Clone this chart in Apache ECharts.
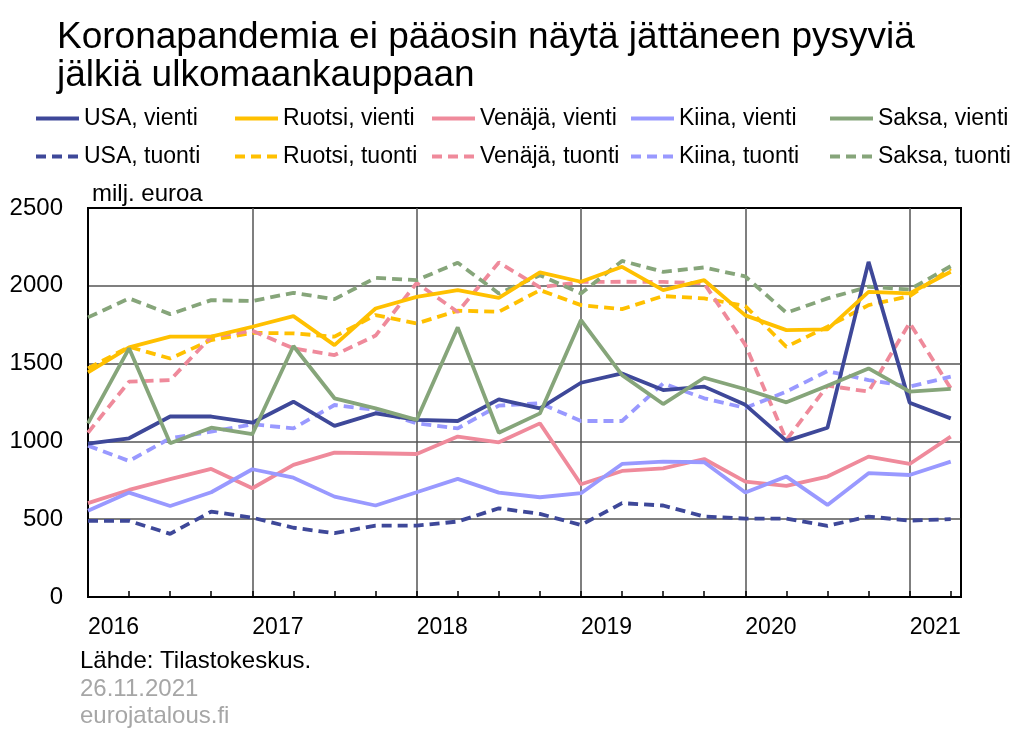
<!DOCTYPE html>
<html>
<head>
<meta charset="utf-8">
<script src="https://cdn.jsdelivr.net/npm/echarts@6/dist/echarts.min.js"></script>
<style>
  html, body { margin: 0; padding: 0; background: #fff; }
  #chart { width: 1014px; height: 729px; }
</style>
</head>
<body>
<div id="chart"></div>
<script>
// vuosineljännekset 2016Q1 - 2021Q2, milj. euroa
const years = ["2016", "2017", "2018", "2019", "2020", "2021"];

const usaVienti = [985, 1020, 1160, 1160, 1120, 1255, 1100, 1180, 1138, 1131, 1270, 1212, 1377, 1437, 1330, 1352, 1235, 1003, 1088, 2154, 1249, 1148];
const usaTuonti = [489, 489, 406, 549, 510, 445, 410, 459, 459, 485, 570, 534, 463, 603, 588, 517, 504, 504, 457, 517, 491, 500];
const ruotsiVienti = [1444, 1604, 1673, 1673, 1737, 1805, 1619, 1854, 1929, 1972, 1923, 2086, 2026, 2122, 1972, 2036, 1810, 1715, 1720, 1961, 1951, 2090];
const ruotsiTuonti = [1469, 1608, 1533, 1651, 1698, 1694, 1673, 1812, 1758, 1840, 1833, 1972, 1876, 1850, 1934, 1919, 1870, 1608, 1737, 1876, 1934, 2111];
const venajaVienti = [603, 688, 757, 823, 699, 849, 928, 924, 919, 1031, 994, 1116, 725, 810, 827, 887, 742, 714, 774, 902, 855, 1031];
const venajaTuonti = [1056, 1384, 1394, 1673, 1711, 1598, 1555, 1680, 2018, 1832, 2150, 1990, 2025, 2026, 2025, 2015, 1620, 1009, 1358, 1320, 1762, 1341];
const kiinaVienti = [555, 671, 585, 673, 821, 767, 645, 588, 673, 759, 671, 641, 667, 855, 870, 866, 671, 774, 592, 796, 784, 870];
const kiinaTuonti = [973, 874, 1020, 1063, 1110, 1084, 1234, 1202, 1116, 1084, 1230, 1245, 1131, 1131, 1373, 1277, 1215, 1320, 1452, 1394, 1352, 1416];
const saksaVienti = [1116, 1598, 988, 1088, 1046, 1613, 1277, 1212, 1138, 1733, 1056, 1180, 1780, 1426, 1240, 1409, 1335, 1251, 1358, 1469, 1320, 1337];
const saksaTuonti = [1797, 1919, 1818, 1908, 1902, 1955, 1914, 2051, 2036, 2148, 1951, 2068, 1951, 2160, 2090, 2118, 2060, 1827, 1919, 1994, 1976, 2126];

const font = "'Liberation Sans', Arial, sans-serif";
const colors = {
  USA: "#3e4899",
  Ruotsi: "#ffc000",
  "Venäjä": "#ef8a9b",
  Kiina: "#9999ff",
  Saksa: "#86a57a"
};

function line(name, color, values, dashed) {
  return {
    name: name,
    type: "line",
    symbol: "none",
    xAxisIndex: 0,
    data: values.map((v, i) => [i, v]),
    lineStyle: { color: color, width: 3.8, type: dashed ? [10, 6] : "solid" },
    itemStyle: { color: color },
    emphasis: { disabled: true },
    z: dashed ? 2 : 3
  };
}

const series = [
  line("USA, vienti", colors.USA, usaVienti, false),
  line("USA, tuonti", colors.USA, usaTuonti, true),
  line("Ruotsi, vienti", colors.Ruotsi, ruotsiVienti, false),
  line("Ruotsi, tuonti", colors.Ruotsi, ruotsiTuonti, true),
  line("Venäjä, vienti", colors["Venäjä"], venajaVienti, false),
  line("Venäjä, tuonti", colors["Venäjä"], venajaTuonti, true),
  line("Kiina, vienti", colors.Kiina, kiinaVienti, false),
  line("Kiina, tuonti", colors.Kiina, kiinaTuonti, true),
  line("Saksa, vienti", colors.Saksa, saksaVienti, false),
  line("Saksa, tuonti", colors.Saksa, saksaTuonti, true)
];

// yksi legenda per sarake
const legendLeft = [34, 233, 430, 629, 828];
const legends = legendLeft.map((x, k) => ({
  orient: "vertical",
  left: x,
  top: 107,
  padding: 0,
  itemWidth: 43,
  itemHeight: 14,
  itemGap: 15,
  selectedMode: false,
  itemStyle: { opacity: 0 },
  lineStyle: { width: 4 },
  textStyle: { fontSize: 23, color: "#000", fontFamily: font },
  data: [series[k * 2].name, series[k * 2 + 1].name]
}));

const xMax = 21.25;

const option = {
  animation: false,
  textStyle: { fontFamily: font },
  title: {
    text: "Koronapandemia ei pääosin näytä jättäneen pysyviä\njälkiä ulkomaankauppaan",
    left: 57,
    top: 19,
    padding: 0,
    textStyle: { fontSize: 37, fontWeight: "normal", color: "#000", lineHeight: 38, fontFamily: font }
  },
  legend: legends,
  grid: {
    left: 88,
    right: 53,
    top: 208,
    bottom: 132,
    show: true,
    borderColor: "#000",
    borderWidth: 2
  },
  xAxis: [
    {
      type: "value",
      min: 0,
      max: xMax,
      interval: 4,
      axisLine: { show: true, lineStyle: { color: "#000", width: 2 } },
      axisTick: { show: false },
      splitLine: {
        show: true,
        lineStyle: { color: ["#000", "#555", "#555", "#555", "#555", "#555", "#000"], width: 1.5 }
      },
      axisLabel: {
        formatter: v => (v % 4 === 0 ? years[v / 4] : ""),
        align: "left",
        margin: 19,
        fontSize: 23,
        color: "#000",
        fontFamily: font,
        hideOverlap: false
      }
    },
    {
      // neljännesvuosien väliviivat
      type: "value",
      position: "bottom",
      min: 0,
      max: xMax,
      interval: 1,
      axisLine: { show: false },
      axisTick: { show: true, inside: true, length: 6, lineStyle: { color: "#000", width: 1.5 } },
      splitLine: { show: false },
      axisLabel: { show: false }
    }
  ],
  yAxis: {
    type: "value",
    min: 0,
    max: 2500,
    interval: 500,
    axisLine: { show: true, lineStyle: { color: "#000", width: 2 } },
    axisTick: { show: false },
    splitLine: {
      show: true,
      lineStyle: { color: ["#000", "#555", "#555", "#555", "#555", "#000"], width: 1.5 }
    },
    axisLabel: { formatter: v => String(v), fontSize: 24, color: "#000", margin: 25, fontFamily: font }
  },
  graphic: [
    { type: "text", left: 92, top: 182, style: { text: "milj. euroa", font: "24px " + font, fill: "#000" } },
    { type: "text", left: 80, top: 649, style: { text: "Lähde: Tilastokeskus.", font: "24px " + font, fill: "#000" } },
    { type: "text", left: 80, top: 677, style: { text: "26.11.2021", font: "24px " + font, fill: "#a6a6a6" } },
    { type: "text", left: 80, top: 704, style: { text: "eurojatalous.fi", font: "24px " + font, fill: "#a6a6a6" } }
  ],
  series: series
};

const chart = echarts.init(document.getElementById("chart"), null, { renderer: "canvas" });
chart.setOption(option);
</script>
</body>
</html>
